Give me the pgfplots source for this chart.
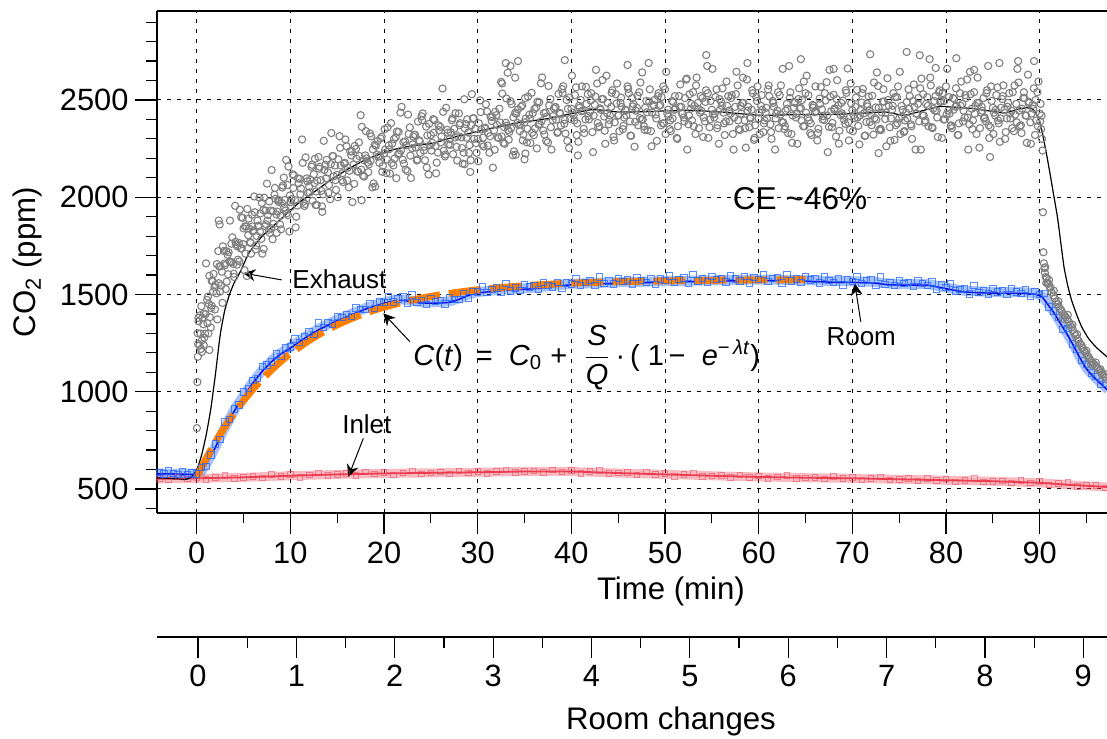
\documentclass[border=0pt]{standalone}
\usepackage{fontspec}
\setmainfont{Liberation Sans}
\usepackage{pgfplots}
\pgfplotsset{compat=1.18}
\usetikzlibrary{arrows.meta}
\definecolor{exgray}{RGB}{128,128,128}
\definecolor{roomblue}{RGB}{30,100,255}
\definecolor{roomline}{RGB}{0,0,230}
\definecolor{inletred}{RGB}{235,60,80}
\definecolor{fitorange}{RGB}{255,128,0}
\begin{document}
\begin{tikzpicture}
\useasboundingbox (-78.5pt,-112.5pt) rectangle (475pt,256.5pt);
\begin{axis}[
  at={(0pt,0pt)}, anchor=south west,
  scale only axis, width=475pt, height=251pt,
  xmin=-4.24, xmax=97.19, ymin=376.6, ymax=2957.6,
  every non boxed y axis/.style={},
  axis x line=box, axis y line=left,
  axis line style={-, black, line width=0.6pt},
  x axis line style={-}, y axis line style={-},
  xtick pos=left, ytick pos=left, xticklabel pos=left,
  xtick align=outside, ytick align=outside,
  major tick length=10.75pt, minor tick length=5.25pt,
  tick style={black, line width=0.6pt},
  xtick={0,10,20,30,40,50,60,70,80,90},
  xticklabels={0,10,20,30,40,50,60,70,80,90},
  minor xtick={5,15,25,35,45,55,65,75,85,95},
  ytick={500,1000,1500,2000,2500},
  yticklabels={500,1000,1500,2000,2500},
  minor ytick={400,600,700,800,900,1100,1200,1300,1400,1600,1700,1800,1900,2100,2200,2300,2400,2600,2700,2800,2900},
  grid=major,
  major grid style={black, line width=0.5pt, dash pattern=on 2pt off 3pt},
  tick label style={font=\fontsize{15.4}{18}\selectfont},
  label style={font=\fontsize{15.6}{18}\selectfont},
  xlabel={Time (min)},
  xlabel style={at={(axis description cs:0.541,0)}, anchor=center, yshift=-39.25pt},
  ylabel={CO\textsubscript{2} (ppm)},
  ylabel style={at={(axis description cs:-0.1363,0.5)}, anchor=center},
]
% inlet band
\addplot[no marks, draw=inletred, opacity=0.35, line width=4.5pt] coordinates {
(-4.3,552) (0,555) (5,560) (10,568) (15,575) (20,580) (25,583) (30,586) (35,590) (40,590) (45,582) (50,575) (55,568) (60,562) (65,558) (70,555) (75,550) (80,545) (85,540) (90,532) (93,522) (97.3,510)};
\addplot[only marks, mark=square, mark size=1.4pt, mark options={draw=inletred, draw opacity=0.55, line width=0.4pt}] coordinates {
(-4,556) (-3,547) (-2,562) (-1,552) (0,561) (1,548) (2,559) (3,569) (4,554) (5,560) (6,566) (7,557) (8,574) (9,564) (10,574) (11,561) (12,573) (13,583) (14,569) (15,575) (16,580) (17,571) (18,587) (19,577) (20,586) (21,573) (22,583) (23,593) (24,577) (25,583) (26,588) (27,578) (28,594) (29,583) (30,592) (31,579) (32,590) (33,599) (34,584) (35,590) (36,594) (37,584) (38,599) (39,588) (40,596) (41,580) (42,589) (43,596) (44,579) (45,582) (46,585) (47,573) (48,587) (49,574) (50,581) (51,566) (52,574) (53,582) (54,564) (55,568) (56,571) (57,560) (58,573) (59,561) (60,568) (61,553) (62,562) (63,571) (64,554) (65,558) (66,561) (67,551) (68,565) (69,554) (70,561) (71,546) (72,555) (73,563) (74,546) (75,550) (76,553) (77,542) (78,556) (79,544) (80,551) (81,536) (82,545) (83,553) (84,536) (85,540) (86,542) (87,531) (88,544) (89,532) (90,538) (91,521) (92,528) (93,533) (94,514) (95,517) (96,518) (97,505)};
\addplot[no marks, draw=inletred, line width=0.9pt] coordinates {
(-4.3,552) (0,555) (5,560) (10,568) (15,575) (20,580) (25,583) (30,586) (35,590) (40,590) (45,582) (50,575) (55,568) (60,562) (65,558) (70,555) (75,550) (80,545) (85,540) (90,532) (93,522) (97.3,510)};
% room band
\addplot[no marks, draw=roomblue, opacity=0.4, line width=5pt] coordinates {
(-4.3,580) (-2,579) (0,579) (0.5,592) (1,627) (1.5,670) (2,718) (2.5,768) (3,815) (4,905) (5,980) (6,1050) (7,1110) (8,1160) (9,1200) (10,1230) (11,1263) (12,1295) (13,1323) (14,1347) (15,1370) (16,1390) (17,1410) (18,1430) (19,1445) (20,1460) (21,1471) (22,1475) (23,1467) (24,1461) (25,1460) (26,1461) (27,1465) (28,1480) (29,1500) (30,1513) (33,1527) (36,1535) (40,1555) (45,1563) (50,1568) (55,1573) (60,1577) (65,1574) (68,1569) (70,1568) (72,1566) (74,1556) (76,1554) (78,1554) (80,1536) (82,1519) (85,1513) (88,1512) (89.5,1508) (90.3,1490) (91,1445) (91.6,1405) (92.2,1357) (93,1295) (93.7,1234) (94.4,1170) (95.1,1116) (96,1070) (96.9,1029) (97.3,1010)};
\addplot[only marks, mark=square, mark size=1.6pt, mark options={draw=roomblue, draw opacity=0.75, fill=roomblue, fill opacity=0.15, line width=0.45pt}] coordinates {
(-4,585) (-3.5,578) (-3,592) (-2.5,580) (-2,576) (-1.5,588) (-1,574) (-0.5,583) (0,578) (0.5,610) (1,616) (1.5,675) (2,732) (2.5,755) (3,845) (3.5,857) (4,912) (4.5,932) (5,998) (5.5,1017) (6,1058) (6.5,1068) (7,1130) (7.5,1138) (8,1154) (8.5,1195) (9,1182) (9.5,1225) (10,1230) (10.5,1271) (11,1254) (11.5,1283) (12,1307) (12.5,1294) (13,1353) (13.5,1330) (14,1354) (14.5,1348) (15,1388) (15.5,1381) (16,1398) (16.5,1387) (17,1430) (17.5,1423) (18,1424) (18.5,1452) (19,1427) (19.5,1462) (20,1460) (20.5,1490) (21,1462) (21.5,1478) (22,1487) (22.5,1457) (23,1497) (23.5,1460) (24,1468) (24.5,1450) (25,1478) (25.5,1463) (26,1469) (26.5,1451) (27,1485) (27.5,1475) (28,1474) (28.5,1505) (29,1482) (29.5,1517) (30,1513) (30.5,1542) (31,1512) (31.5,1526) (32,1534) (32.5,1509) (33,1557) (33.5,1519) (34,1534) (34.5,1520) (35,1551) (35.5,1539) (36,1545) (36.5,1527) (37,1561) (37.5,1546) (38,1539) (38.5,1561) (39,1530) (39.5,1560) (40,1555) (40.5,1581) (41,1548) (41.5,1563) (42,1571) (42.5,1545) (43,1591) (43.5,1558) (44,1570) (44.5,1554) (45,1583) (45.5,1568) (46,1574) (46.5,1555) (47,1587) (47.5,1571) (48,1563) (48.5,1584) (49,1552) (49.5,1580) (50,1571) (50.5,1596) (51,1563) (51.5,1577) (52,1585) (52.5,1558) (53,1603) (53.5,1570) (54,1581) (54.5,1564) (55,1593) (55.5,1577) (56,1583) (56.5,1564) (57,1596) (57.5,1579) (58,1570) (58.5,1592) (59,1559) (59.5,1587) (60,1577) (60.5,1602) (61,1567) (61.5,1581) (62,1587) (62.5,1560) (63,1604) (63.5,1570) (64,1580) (64.5,1563) (65,1591) (65.5,1574) (66,1579) (66.5,1559) (67,1590) (67.5,1572) (68,1562) (68.5,1583) (69,1549) (69.5,1577) (70,1567) (70.5,1592) (71,1557) (71.5,1571) (72,1577) (72.5,1547) (73,1590) (73.5,1553) (74,1562) (74.5,1545) (75,1572) (75.5,1556) (76,1561) (76.5,1541) (77,1573) (77.5,1556) (78,1547) (78.5,1564) (79,1526) (79.5,1550) (80,1535) (80.5,1556) (81,1518) (81.5,1527) (82,1530) (82.5,1502) (83,1546) (83.5,1511) (84,1521) (84.5,1503) (85,1530) (85.5,1514) (86,1520) (86.5,1500) (87,1531) (87.5,1514) (88,1505) (88.5,1525) (89,1491) (89.5,1517) (90,1500) (90.5,1505) (91,1436) (91.5,1415) (92,1382) (92.5,1320) (93,1325) (93.5,1246) (94,1217) (94.5,1160) (95,1141) (95.5,1097) (96,1078) (96.5,1038) (97,1045)};
% exhaust scatter
\addplot[only marks, mark=o, mark size=1.8pt, mark options={draw=exgray, line width=0.55pt}] coordinates {
(0.1,1301) (0.3,1238) (0.5,1440) (0.7,1347) (0.9,1299) (1.1,1472) (1.3,1451) (1.5,1330) (1.7,1569) (1.9,1538) (2.1,1506) (2.3,1723) (2.5,1515) (2.7,1617) (2.9,1724) (3.1,1528) (3.3,1704) (3.5,1670) (3.7,1761) (3.9,1657) (4.1,1956) (4.3,1653) (4.5,1765) (4.7,1737) (4.9,1894) (5.1,1625) (5.3,1850) (5.5,1805) (5.7,1770) (5.9,1910) (6.1,1829) (6.3,1732) (6.5,1880) (6.7,1998) (6.9,1786) (7.1,1934) (7.3,1852) (7.5,2070) (7.7,1833) (7.9,1931) (8.1,1784) (8.3,2013) (8.5,1912) (8.7,1986) (8.9,1860) (9.1,1970) (9.3,2101) (9.5,1932) (9.7,2063) (9.9,1824)
(0.2,1362) (0.4,1299) (0.6,1381) (0.8,1278) (1.0,1660) (1.2,1489) (1.4,1383) (1.6,1442) (1.8,1606) (2.0,1550) (2.2,1372) (2.4,1644) (2.6,1546) (2.8,1748) (3.0,1650) (3.2,1566) (3.4,1717) (3.6,1668) (3.8,1794) (4.0,1590) (4.2,1757) (4.4,1679) (4.6,1936) (4.8,1738) (5.0,1840) (5.2,1710) (5.4,1940) (5.6,1840) (5.8,1710) (6.0,1825) (6.2,1923) (6.4,1801) (6.6,1854) (6.8,1917) (7.0,1710) (7.2,1998) (7.4,1861) (7.6,1909) (7.8,1817) (8.0,2140) (8.2,1863) (8.4,1992) (8.6,1926) (8.8,1985) (9.0,1835) (9.2,2060) (9.4,1986) (9.6,1917) (9.8,2158) (10.0,1975)
(0.15,1246) (0.35,1393) (0.55,1205) (0.75,1402) (0.95,1399) (1.15,1352) (1.35,1596) (1.55,1430) (1.75,1514) (1.95,1423) (2.15,1656) (2.35,1558) (2.55,1645) (2.75,1457) (2.95,1659) (3.15,1723) (3.35,1604) (3.55,1880) (3.75,1666) (3.95,1607) (4.15,1771) (4.35,1748) (4.55,1670) (4.75,1897) (4.95,1759) (5.15,1850) (5.35,1595) (5.55,1890) (5.75,1765) (5.95,1850) (6.15,2004) (6.35,1752) (6.55,1850) (6.75,1823) (6.95,1971) (7.15,1734) (7.35,1932) (7.55,1880) (7.75,1978) (7.95,1841) (8.15,1929) (8.35,2048) (8.55,1817) (8.75,1976) (8.95,1905) (9.15,2050) (9.35,1946) (9.55,2192) (9.75,1908) (9.95,2009)
(10.25,2118) (10.5,1985) (10.75,1957) (11,2095) (11.25,2297) (11.5,1955) (11.75,2097) (12,2055) (12.25,2157) (12.5,2118) (12.75,2030) (13,2207) (13.25,2088) (13.5,2015) (13.75,2167) (14,2128) (14.25,1990) (14.5,2212) (14.75,2163) (15,2115) (15.25,2314) (15.5,2088) (15.75,2172) (16,2262) (16.25,2051) (16.5,2215) (16.75,2169) (17,2248) (17.25,2132) (17.5,2422) (17.75,2111) (18,2215) (18.25,2179) (18.5,2328) (18.75,2051) (19,2270) (19.25,2219) (19.5,2177) (19.75,2311) (20,2225) (20.25,2124) (20.5,2267) (20.75,2381) (21,2164) (21.25,2308) (21.5,2221) (21.75,2435) (22,2193) (22.25,2287) (22.5,2135) (22.75,2359) (23,2252) (23.25,2321) (23.5,2189) (23.75,2293) (24,2416) (24.25,2240) (24.5,2363) (24.75,2117) (25,2320) (25.25,2402) (25.5,2263) (25.75,2230) (26,2362) (26.25,2559) (26.5,2210) (26.75,2347) (27,2299) (27.25,2396) (27.5,2352) (27.75,2259) (28,2431) (28.25,2308) (28.5,2229) (28.75,2376) (29,2333) (29.25,2190) (29.5,2406) (29.75,2353) (30,2300) (30.25,2498) (30.5,2271) (30.75,2353) (31,2441) (31.25,2229) (31.5,2392) (31.75,2344) (32,2422) (32.25,2305) (32.5,2593) (32.75,2280) (33,2383) (33.25,2346) (33.5,2494) (33.75,2216) (34,2434) (34.25,2382) (34.5,2340) (34.75,2472) (35,2385) (35.25,2282) (35.5,2424) (35.75,2537) (36,2319) (36.25,2461) (36.5,2373) (36.75,2586) (37,2343) (37.25,2435) (37.5,2282) (37.75,2505) (38,2397) (38.25,2464) (38.5,2331) (38.75,2434) (39,2556) (39.25,2378) (39.5,2500) (39.75,2253) (40,2455)
(10.125,1990) (10.375,2112) (10.625,1900) (10.875,2072) (11.125,2045) (11.375,1977) (11.625,2205) (11.875,2022) (12.125,2090) (12.375,1982) (12.625,2198) (12.875,2085) (13.125,2157) (13.375,1953) (13.625,2140) (13.875,2192) (14.125,2063) (14.375,2330) (14.625,2107) (14.875,2038) (15.125,2195) (15.375,2164) (15.625,2078) (15.875,2297) (16.125,2152) (16.375,2236) (16.625,1975) (16.875,2264) (17.125,2133) (17.375,2212) (17.625,2362) (17.875,2106) (18.125,2200) (18.375,2169) (18.625,2313) (18.875,2071) (19.125,2265) (19.375,2209) (19.625,2302) (19.875,2161) (20.125,2245) (20.375,2359) (20.625,2122) (20.875,2276) (21.125,2199) (21.375,2338) (21.625,2226) (21.875,2465) (22.125,2173) (22.375,2267) (22.625,2325) (22.875,2099) (23.125,2312) (23.375,2256) (23.625,2389) (23.875,2228) (24.125,2431) (24.375,2190) (24.625,2318) (24.875,2267) (25.125,2280) (25.375,2397) (25.625,2178) (25.875,2345) (26.125,2312) (26.375,2239) (26.625,2460) (26.875,2272) (27.125,2334) (27.375,2221) (27.625,2432) (27.875,2314) (28.125,2381) (28.375,2173) (28.625,2354) (28.875,2401) (29.125,2268) (29.375,2530) (29.625,2301) (29.875,2228) (30.125,2380) (30.375,2348) (30.625,2261) (30.875,2478) (31.125,2331) (31.375,2414) (31.625,2152) (31.875,2439) (32.125,2307) (32.375,2385) (32.625,2533) (32.875,2275) (33.125,2368) (33.375,2336) (33.625,2479) (33.875,2236) (34.125,2429) (34.375,2372) (34.625,2465) (34.875,2322) (35.125,2405) (35.375,2517) (35.625,2279) (35.875,2432) (36.125,2354) (36.375,2491) (36.625,2378) (36.875,2616) (37.125,2323) (37.375,2415) (37.625,2472) (37.875,2245) (38.125,2457) (38.375,2399) (38.625,2531) (38.875,2369) (39.125,2571) (39.375,2328) (39.625,2455) (39.875,2403)
(10.0625,1950) (10.3125,2047) (10.5625,1845) (10.8125,2097) (11.0625,2015) (11.3125,2177) (11.5625,1965) (11.8125,2082) (12.0625,2025) (12.3125,2167) (12.5625,2073) (12.8125,1960) (13.0625,2147) (13.3125,2033) (13.5625,2290) (13.8125,2097) (14.0625,2023) (14.3125,2170) (14.5625,2212) (14.8125,2088) (15.0625,2000) (15.3125,2254) (15.5625,2123) (15.8125,2177) (16.0625,2087) (16.3125,2136) (16.5625,2235) (16.8125,2069) (17.0625,2198) (17.3125,2282) (17.5625,2142) (17.8125,2191) (18.0625,2340) (18.3125,2129) (18.5625,2188) (18.8125,2246) (19.0625,2055) (19.3125,2289) (19.5625,2212) (19.8125,2131) (20.0625,2350) (20.3125,2194) (20.5625,2247) (20.8125,2176) (21.0625,2299) (21.3125,2098) (21.5625,2336) (21.8125,2240) (22.0625,2283) (22.3125,2142) (22.5625,2425) (22.8125,2214) (23.0625,2272) (23.3125,2321) (23.5625,2194) (23.8125,2288) (24.0625,2396) (24.3125,2260) (24.5625,2153) (24.8125,2377) (25.0625,2240) (25.3125,2332) (25.5625,2123) (25.8125,2370) (26.0625,2282) (26.3125,2439) (26.5625,2220) (26.8125,2332) (27.0625,2269) (27.3125,2406) (27.5625,2307) (27.8125,2189) (28.0625,2371) (28.3125,2253) (28.5625,2504) (28.8125,2306) (29.0625,2228) (29.3125,2370) (29.5625,2406) (29.8125,2278) (30.0625,2185) (30.3125,2438) (30.5625,2306) (30.8125,2358) (31.0625,2266) (31.3125,2314) (31.5625,2412) (31.8125,2244) (32.0625,2372) (32.3125,2455) (32.5625,2313) (32.8125,2360) (33.0625,2508) (33.3125,2296) (33.5625,2354) (33.8125,2411) (34.0625,2219) (34.3125,2452) (34.5625,2375) (34.8125,2292) (35.0625,2510) (35.3125,2352) (35.5625,2404) (35.8125,2332) (36.0625,2454) (36.3125,2251) (36.5625,2488) (36.8125,2391) (37.0625,2433) (37.3125,2290) (37.5625,2572) (37.8125,2360) (38.0625,2417) (38.3125,2464) (38.5625,2336) (38.8125,2429) (39.0625,2536) (39.3125,2398) (39.5625,2290) (39.8125,2513)
(40.25,2420) (40.5,2565) (40.75,2285) (41,2500) (41.25,2445) (41.5,2400) (41.75,2530) (42,2440) (42.25,2335) (42.5,2475) (42.75,2585) (43,2365) (43.25,2505) (43.5,2415) (43.75,2625) (44,2375) (44.25,2465) (44.5,2310) (44.75,2530) (45,2420) (45.25,2485) (45.5,2350) (45.75,2450) (46,2570) (46.25,2390) (46.5,2510) (46.75,2260) (47,2460) (47.25,2540) (47.5,2400) (47.75,2365) (48,2495) (48.25,2690) (48.5,2340) (48.75,2475) (49,2425) (49.25,2520) (49.5,2475) (49.75,2380) (50,2555) (50.25,2430) (50.5,2350) (50.75,2495) (51,2450) (51.25,2305) (51.5,2520) (51.75,2465) (52,2410) (52.25,2605) (52.5,2375) (52.75,2455) (53,2540) (53.25,2325) (53.5,2485) (53.75,2435) (54,2510) (54.25,2390) (54.5,2675) (54.75,2360) (55,2450) (55.25,2410) (55.5,2555) (55.75,2275) (56,2490) (56.25,2435) (56.5,2390) (56.75,2520) (57,2430) (57.25,2325) (57.5,2465) (57.75,2575) (58,2345) (58.25,2485) (58.5,2395) (58.75,2605) (59,2360) (59.25,2450) (59.5,2295) (59.75,2515) (60,2405) (60.25,2470) (60.5,2335) (60.75,2435) (61,2555) (61.25,2375) (61.5,2495) (61.75,2245) (62,2445) (62.25,2525) (62.5,2385) (62.75,2350) (63,2480) (63.25,2675) (63.5,2325) (63.75,2460) (64,2410) (64.25,2505) (64.5,2460) (64.75,2365) (65,2535) (65.25,2410) (65.5,2330) (65.75,2475) (66,2437) (66.25,2292) (66.5,2507) (66.75,2452) (67,2397) (67.25,2592) (67.5,2362) (67.75,2442) (68,2527) (68.25,2312) (68.5,2472) (68.75,2422) (69,2497) (69.25,2377) (69.5,2662) (69.75,2347) (70,2447) (70.25,2407) (70.5,2552) (70.75,2272) (71,2487) (71.25,2432) (71.5,2387) (71.75,2517) (72,2427) (72.25,2322) (72.5,2462) (72.75,2572) (73,2352) (73.25,2492) (73.5,2402) (73.75,2612) (74,2360) (74.25,2450) (74.5,2295) (74.75,2515) (75,2405) (75.25,2470) (75.5,2335) (75.75,2435) (76,2555) (76.25,2375) (76.5,2495) (76.75,2245) (77,2480) (77.25,2560) (77.5,2420) (77.75,2385) (78,2515) (78.25,2710) (78.5,2360) (78.75,2495) (79,2445) (79.25,2540) (79.5,2495) (79.75,2400) (80,2570) (80.25,2445) (80.5,2365) (80.75,2510) (81,2465) (81.25,2320) (81.5,2535) (81.75,2480) (82,2410) (82.25,2605) (82.5,2375) (82.75,2455) (83,2540) (83.25,2325) (83.5,2485) (83.75,2435) (84,2510) (84.25,2390) (84.5,2675) (84.75,2360) (85,2460) (85.25,2420) (85.5,2565) (85.75,2285) (86,2505) (86.25,2450) (86.5,2405) (86.75,2535) (87,2445) (87.25,2340) (87.5,2480) (87.75,2590) (88,2370) (88.25,2510) (88.5,2420) (88.75,2630) (89,2385) (89.25,2475) (89.5,2320) (89.75,2540) (90,2430)
(40.125,2435) (40.375,2525) (40.625,2380) (40.875,2460) (41.125,2570) (41.375,2330) (41.625,2480) (41.875,2400) (42.125,2535) (42.375,2420) (42.625,2655) (42.875,2360) (43.125,2450) (43.375,2505) (43.625,2275) (43.875,2485) (44.125,2420) (44.375,2550) (44.625,2385) (44.875,2585) (45.125,2340) (45.375,2465) (45.625,2410) (45.875,2420) (46.125,2535) (46.375,2315) (46.625,2480) (46.875,2445) (47.125,2370) (47.375,2590) (47.625,2400) (47.875,2460) (48.125,2345) (48.375,2555) (48.625,2435) (48.875,2500) (49.125,2290) (49.375,2470) (49.625,2515) (49.875,2380) (50.125,2645) (50.375,2415) (50.625,2340) (50.875,2490) (51.125,2455) (51.375,2365) (51.625,2580) (51.875,2430) (52.125,2510) (52.375,2245) (52.625,2530) (52.875,2395) (53.125,2470) (53.375,2615) (53.625,2355) (53.875,2445) (54.125,2410) (54.375,2550) (54.625,2305) (54.875,2495) (55.125,2425) (55.375,2515) (55.625,2370) (55.875,2450) (56.125,2560) (56.375,2320) (56.625,2470) (56.875,2390) (57.125,2525) (57.375,2410) (57.625,2645) (57.875,2350) (58.125,2430) (58.375,2485) (58.625,2255) (58.875,2465) (59.125,2405) (59.375,2535) (59.625,2370) (59.875,2570) (60.125,2325) (60.375,2450) (60.625,2395) (60.875,2405) (61.125,2520) (61.375,2300) (61.625,2465) (61.875,2430) (62.125,2355) (62.375,2575) (62.625,2385) (62.875,2445) (63.125,2330) (63.375,2540) (63.625,2420) (63.875,2485) (64.125,2275) (64.375,2455) (64.625,2500) (64.875,2365) (65.125,2625) (65.375,2395) (65.625,2320) (65.875,2470) (66.125,2442) (66.375,2352) (66.625,2567) (66.875,2417) (67.125,2497) (67.375,2232) (67.625,2517) (67.875,2382) (68.125,2457) (68.375,2602) (68.625,2342) (68.875,2432) (69.125,2397) (69.375,2537) (69.625,2292) (69.875,2482) (70.125,2422) (70.375,2512) (70.625,2367) (70.875,2447) (71.125,2557) (71.375,2317) (71.625,2467) (71.875,2387) (72.125,2522) (72.375,2407) (72.625,2642) (72.875,2347) (73.125,2437) (73.375,2492) (73.625,2262) (73.875,2472) (74.125,2405) (74.375,2535) (74.625,2370) (74.875,2570) (75.125,2325) (75.375,2450) (75.625,2395) (75.875,2405) (76.125,2520) (76.375,2300) (76.625,2465) (76.875,2430) (77.125,2390) (77.375,2610) (77.625,2420) (77.875,2480) (78.125,2365) (78.375,2575) (78.625,2455) (78.875,2520) (79.125,2310) (79.375,2490) (79.625,2535) (79.875,2400) (80.125,2660) (80.375,2430) (80.625,2355) (80.875,2505) (81.125,2470) (81.375,2380) (81.625,2595) (81.875,2445) (82.125,2510) (82.375,2245) (82.625,2530) (82.875,2395) (83.125,2470) (83.375,2615) (83.625,2355) (83.875,2445) (84.125,2410) (84.375,2550) (84.625,2305) (84.875,2495) (85.125,2435) (85.375,2525) (85.625,2380) (85.875,2460) (86.125,2575) (86.375,2335) (86.625,2485) (86.875,2405) (87.125,2540) (87.375,2425) (87.625,2660) (87.875,2365) (88.125,2455) (88.375,2510) (88.625,2280) (88.875,2490) (89.125,2430) (89.375,2560) (89.625,2395) (89.875,2595)
(40.0625,2625) (40.3125,2395) (40.5625,2320) (40.8125,2470) (41.0625,2442) (41.3125,2352) (41.5625,2567) (41.8125,2417) (42.0625,2497) (42.3125,2232) (42.5625,2517) (42.8125,2382) (43.0625,2457) (43.3125,2602) (43.5625,2342) (43.8125,2432) (44.0625,2397) (44.3125,2537) (44.5625,2292) (44.8125,2482) (45.0625,2422) (45.3125,2512) (45.5625,2367) (45.8125,2447) (46.0625,2557) (46.3125,2317) (46.5625,2467) (46.8125,2387) (47.0625,2522) (47.3125,2407) (47.5625,2642) (47.8125,2347) (48.0625,2437) (48.3125,2492) (48.5625,2262) (48.8125,2472) (49.0625,2405) (49.3125,2535) (49.5625,2370) (49.8125,2570) (50.0625,2325) (50.3125,2450) (50.5625,2395) (50.8125,2405) (51.0625,2520) (51.3125,2300) (51.5625,2465) (51.8125,2430) (52.0625,2390) (52.3125,2610) (52.5625,2420) (52.8125,2480) (53.0625,2365) (53.3125,2575) (53.5625,2455) (53.8125,2520) (54.0625,2310) (54.3125,2490) (54.5625,2535) (54.8125,2400) (55.0625,2660) (55.3125,2430) (55.5625,2355) (55.8125,2505) (56.0625,2470) (56.3125,2380) (56.5625,2595) (56.8125,2445) (57.0625,2510) (57.3125,2245) (57.5625,2530) (57.8125,2395) (58.0625,2470) (58.3125,2615) (58.5625,2355) (58.8125,2445) (59.0625,2410) (59.3125,2550) (59.5625,2305) (59.8125,2495) (60.0625,2435) (60.3125,2525) (60.5625,2380) (60.8125,2460) (61.0625,2575) (61.3125,2335) (61.5625,2485) (61.8125,2405) (62.0625,2540) (62.3125,2425) (62.5625,2660) (62.8125,2365) (63.0625,2455) (63.3125,2510) (63.5625,2280) (63.8125,2490) (64.0625,2430) (64.3125,2560) (64.5625,2395) (64.8125,2595)
(65.0625,2435) (65.3125,2525) (65.5625,2380) (65.8125,2460) (66.0625,2570) (66.3125,2330) (66.5625,2480) (66.8125,2400) (67.0625,2535) (67.3125,2420) (67.5625,2655) (67.8125,2360) (68.0625,2450) (68.3125,2505) (68.5625,2275) (68.8125,2485) (69.0625,2420) (69.3125,2550) (69.5625,2385) (69.8125,2585) (70.0625,2340) (70.3125,2465) (70.5625,2410) (70.8125,2420) (71.0625,2535) (71.3125,2315) (71.5625,2480) (71.8125,2445) (72.0625,2370) (72.3125,2590) (72.5625,2400) (72.8125,2460) (73.0625,2345) (73.3125,2555) (73.5625,2435) (73.8125,2500) (74.0625,2290) (74.3125,2470) (74.5625,2515) (74.8125,2380) (75.0625,2645) (75.3125,2415) (75.5625,2340) (75.8125,2490) (76.0625,2455) (76.3125,2365) (76.5625,2580) (76.8125,2430) (77.0625,2510) (77.3125,2245) (77.5625,2530) (77.8125,2395) (78.0625,2470) (78.3125,2615) (78.5625,2355) (78.8125,2445) (79.0625,2410) (79.3125,2550) (79.5625,2305) (79.8125,2495) (80.0625,2425) (80.3125,2515) (80.5625,2370) (80.8125,2450) (81.0625,2560) (81.3125,2320) (81.5625,2470) (81.8125,2390) (82.0625,2525) (82.3125,2410) (82.5625,2645) (82.8125,2350) (83.0625,2430) (83.3125,2485) (83.5625,2255) (83.8125,2465) (84.0625,2405) (84.3125,2535) (84.5625,2370) (84.8125,2570) (85.0625,2325) (85.3125,2450) (85.5625,2395) (85.8125,2405) (86.0625,2520) (86.3125,2300) (86.5625,2465) (86.8125,2430) (87.0625,2355) (87.3125,2575) (87.5625,2385) (87.8125,2445) (88.0625,2330) (88.3125,2540) (88.5625,2420) (88.8125,2485) (89.0625,2275) (89.3125,2455) (89.5625,2500) (89.8125,2365)
(0.02,813) (0.07,1050) (0.12,1180) (0.18,1380) (0.45,1220) (0.55,1265) (0.75,1240) (1.25,1300) (1.35,1215) (1.6,1570) (2.35,1880) (2.45,1860) (12.7,1960) (13.4,1925) (17.6,1985) (28.6,2170) (29.2,2130) (32.6,2585) (33.0,2690) (33.2,2640) (33.5,2675) (34.0,2615) (34.3,2700) (35.0,2195) (35.1,2225) (39.3,2705) (40.7,2215) (46.0,2680) (54.4,2731) (58.8,2690) (64.5,2710) (68.0,2660) (71.9,2735) (72.8,2227) (75.8,2747) (77.2,2730) (78.9,2665) (81.1,2715) (83.0,2655) (84.7,2207) (85.7,2690) (87.7,2700) (89.4,2700)
(90.05,2390) (90.1,2480) (90.15,2350) (90.2,2420) (90.25,2300) (90.3,2240) (90.35,1923) (90.4,1717) (90.45,1660) (90.5,1635)
(90.55,1612) (90.65,1590) (90.75,1585) (90.85,1560) (90.95,1555) (91.05,1540) (91.15,1535) (91.3,1510) (91.45,1495) (91.6,1480) (91.75,1462) (91.9,1450) (92.05,1438) (92.2,1425) (92.35,1415) (92.5,1400) (92.65,1392) (92.8,1382) (92.95,1372) (93.1,1360) (93.25,1345) (93.4,1332) (93.55,1318) (93.7,1300) (93.85,1288) (94.0,1272) (94.15,1262) (94.3,1248) (94.45,1240) (94.6,1226) (94.75,1210) (94.9,1200) (95.05,1188) (95.2,1180) (95.35,1168) (95.5,1158) (95.65,1150) (95.8,1142) (95.95,1134) (96.1,1125) (96.25,1118) (96.4,1108) (96.55,1098) (96.7,1090) (96.85,1080) (97.0,1072) (97.15,1065)
(90.6,1640) (90.7,1560) (91.0,1575) (91.5,1520) (92.0,1465) (92.5,1375) (93.0,1395) (93.5,1345) (94.0,1295) (94.5,1225) (95.0,1210) (95.5,1140) (96.0,1150) (96.5,1115) (97.0,1090)};
% exhaust smooth line
\addplot[no marks, black, line width=0.6pt, smooth, tension=0.3] coordinates {
(-4.3,557) (-3,555) (-2,551) (-1.5,549) (-1,551) (-0.5,565) (0,598) (0.5,670) (1,775) (1.5,910) (2,1090) (2.5,1290) (3,1420) (3.5,1500) (4,1560) (4.6,1612) (5.6,1715) (7,1800) (9.2,1897) (11,1975) (12.8,2036) (14.5,2095) (16.3,2149) (18,2192) (19.8,2226) (21,2245) (22.7,2262) (24,2270) (25.2,2277) (27,2303) (30.5,2344) (34,2380) (37.6,2405) (40,2430) (42.1,2450) (43.5,2447) (45.1,2438) (48,2440) (50,2444) (52.7,2447) (56,2438) (60.3,2421) (64,2425) (67.9,2426) (71,2432) (73.6,2438) (75.5,2421) (77.5,2445) (79.3,2467) (81,2462) (83.1,2455) (86.2,2433) (87.5,2450) (88.5,2460) (89.2,2455) (89.6,2430) (90,2390) (90.3,2328) (90.7,2230) (91.1,2123) (91.5,2010) (91.9,1897) (92.3,1750) (92.6,1640) (93,1545) (93.4,1471) (94,1390) (94.5,1332) (95.2,1275) (96,1230) (97.3,1175)};
% room line
\addplot[no marks, draw=roomline, line width=0.7pt, smooth, tension=0.3] coordinates {
(-4.3,578) (-3,578) (-2,577) (-1,576) (-0.5,576) (0,577) (0.5,590) (1,625) (1.5,668) (2,715) (2.5,765) (3,812) (4,900) (5,975) (6,1045) (7,1105) (8,1155) (9,1195) (10,1225) (11,1258) (12,1290) (13,1318) (14,1342) (15,1365) (16,1385) (17,1405) (18,1425) (19,1440) (20,1455) (21,1466) (22,1470) (23,1462) (24,1456) (25,1455) (26,1456) (27,1460) (28,1475) (29,1495) (30,1508) (33,1522) (36,1530) (40,1550) (45,1558) (50,1563) (55,1568) (60,1572) (65,1568) (68,1563) (70,1562) (72,1560) (74,1550) (76,1548) (78,1548) (80,1530) (82,1513) (85,1507) (88,1506) (89.5,1502) (90.3,1485) (91,1440) (91.6,1400) (92.2,1352) (93,1290) (93.7,1229) (94.4,1165) (95.1,1111) (96,1065) (96.9,1024) (97.3,1005)};
% fit
\addplot[no marks, draw=fitorange, line width=3.5pt, dash pattern=on 16pt off 4.5pt, smooth] coordinates {
(0,560) (1,655) (2,741) (3,819) (4,890) (5,954) (6,1013) (7,1065) (8,1113) (9,1157) (10,1196) (12,1264) (14,1320) (16,1366) (18,1404) (20,1435) (23,1471) (26,1498) (30,1524) (35,1545) (40,1558) (45,1566) (50,1570) (55,1573) (60,1575) (65,1576)};
% annotations
\node[anchor=base west, inner sep=0pt, font=\fontsize{13}{15}\selectfont] at (axis cs:10.18,1532) {Exhaust};
\draw[-{Stealth[length=6pt,width=6pt]}, line width=0.5pt] (axis cs:9.07,1575) -- (axis cs:4.98,1610);
\node[anchor=base west, inner sep=0pt, font=\fontsize{14.5}{17}\selectfont] at (axis cs:23.1,1137.5) {\textit{C}(\textit{t})\, = \;\textit{C}\textsubscript{0} + \;$\displaystyle\frac{\mbox{\textit{S}}}{\mbox{\textit{Q}}}$\,·\,(\;1\,−\;\;\textit{e}\textsuperscript{−\,\textit{λt}})};
\draw[-{Stealth[length=6pt,width=6pt]}, line width=0.5pt] (axis cs:22.77,1257) -- (axis cs:19.92,1403);
\node[anchor=base west, inner sep=0pt, font=\fontsize{13}{15}\selectfont] at (axis cs:67.2,1240) {Room};
\draw[-{Stealth[length=6pt,width=6pt]}, line width=0.5pt] (axis cs:70.9,1360) -- (axis cs:70.26,1557);
\node[anchor=base west, inner sep=0pt, font=\fontsize{13}{15}\selectfont] at (axis cs:15.5,786) {Inlet};
\draw[-{Stealth[length=6pt,width=6pt]}, line width=0.5pt] (axis cs:17.79,760) -- (axis cs:16.19,563);
\node[anchor=base west, inner sep=0pt, font=\fontsize{15.8}{18}\selectfont] at (axis cs:57.2,1938) {CE \textasciitilde46\%};
\end{axis}
\begin{axis}[
  at={(0pt,-62pt)}, anchor=south west,
  scale only axis, width=475pt, height=10pt,
  xmin=-0.417, xmax=9.241, ymin=0, ymax=1,
  every non boxed x axis/.style={},
  axis x line*=bottom, hide y axis,
  x axis line style={-, black, line width=0.6pt},
  xtick align=outside,
  major tick length=10.5pt, minor tick length=5.25pt,
  tick style={black, line width=0.6pt},
  xtick={0,1,2,3,4,5,6,7,8,9},
  xticklabels={0,1,2,3,4,5,6,7,8,9},
  minor xtick={0.5,1.5,2.5,3.5,4.5,5.5,6.5,7.5,8.5},
  tick label style={font=\fontsize{15.4}{18}\selectfont},
  xlabel={Room changes},
  xlabel style={at={(axis description cs:0.541,0)}, anchor=center, yshift=-42.25pt, font=\fontsize{15.6}{18}\selectfont},
]
\end{axis}
\end{tikzpicture}
\end{document}
